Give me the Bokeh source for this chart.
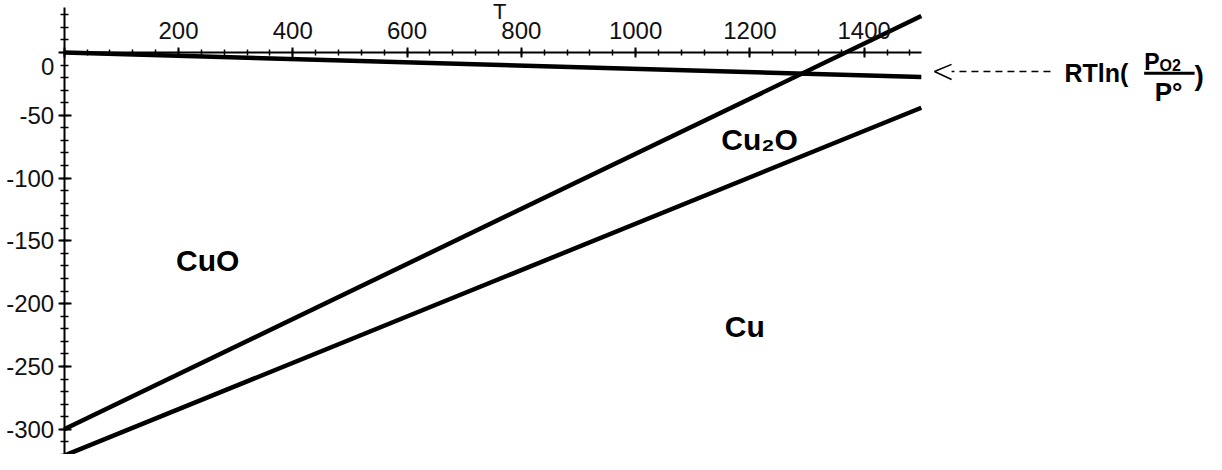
from bokeh.plotting import figure
from bokeh.models import Range1d, SingleIntervalTicker
from bokeh.core.properties import value
from bokeh.embed import file_html
from bokeh.resources import INLINE

# ---- data (T in K, energies in kJ) ----
T_ends = [0, 1500]
cuo_cu2o = [-300, 29]        # CuO / Cu2O boundary
cu2o_cu = [-321, -44]        # Cu2O / Cu boundary
rtln_po2 = [0, -19.5]        # RT ln(P_O2/P°)

x_tick_values = [200, 400, 600, 800, 1000, 1200, 1400]
x_tick_labels = ["200", "400", "600", "800", "1000", "1200", "1400"]
y_tick_values = [-300, -250, -200, -150, -100, -50]
y_tick_labels = ["-300", "-250", "-200", "-150", "-100", "-50"]

region_labels = ["CuO", "Cu\u2082O", "Cu"]
region_x = [251, 1217, 1191]
region_y = [-165.6, -69.3, -217.8]

FONT = value("Liberation Sans")

p = figure(width=1206, height=454, output_backend="svg", toolbar_location=None,
           x_range=Range1d(-111.5, 1999.1), y_range=Range1d(-320.1, 41.4),
           x_axis_location="above", y_axis_location="left")
p.min_border = 0
p.min_border_left = 0
p.min_border_right = 0
p.min_border_top = 0
p.min_border_bottom = 0
p.outline_line_color = None
p.xgrid.visible = False
p.ygrid.visible = False
p.background_fill_color = "white"
p.border_fill_color = "white"

# x axis crossing at y = 0
xa = p.xaxis[0]
xa.fixed_location = 0
xa.bounds = (0, 1500)
xa.ticker = SingleIntervalTicker(interval=200, num_minor_ticks=5)
overrides = {0: ""}
overrides.update({v: s for v, s in zip(x_tick_values, x_tick_labels)})
xa.major_label_overrides = overrides
xa.axis_line_width = 2
xa.axis_line_color = "black"
xa.major_tick_in = 5
xa.major_tick_out = 5
xa.minor_tick_in = 3
xa.minor_tick_out = 3
xa.major_tick_line_width = 2
xa.minor_tick_line_width = 1.5
xa.major_label_standoff = 8
xa.major_label_text_font = "Liberation Sans"
xa.major_label_text_font_size = "24px"
xa.major_label_text_color = "#111111"

# y axis crossing at x = 0
ya = p.yaxis[0]
ya.fixed_location = 0
ya.bounds = (-330, 36)
ya.ticker = SingleIntervalTicker(interval=50, num_minor_ticks=5)
yover = {0: ""}
yover.update({v: s for v, s in zip(y_tick_values, y_tick_labels)})
ya.major_label_overrides = yover
ya.axis_line_width = 2
ya.axis_line_color = "black"
ya.major_tick_in = 7
ya.major_tick_out = 6
ya.minor_tick_in = 4
ya.minor_tick_out = 4
ya.major_tick_line_width = 2
ya.minor_tick_line_width = 1.5
ya.major_label_standoff = 4
ya.major_label_text_font = "Liberation Sans"
ya.major_label_text_font_size = "24px"
ya.major_label_text_color = "#111111"

# lines
for ys in (cuo_cu2o, cu2o_cu, rtln_po2):
    p.line(T_ends, ys, line_color="black", line_width=4.5)

# "0" label of the y axis (offset below the x axis) and axis title T
p.text(x=[-29], y=[-11.1], text=["0"], text_font=FONT, text_font_size="24px",
       text_color="#111111", text_align="center", text_baseline="middle")
p.text(x=[762], y=[32.5], text=["T"], text_font=FONT, text_font_size="22px",
       text_color="#111111", text_align="center", text_baseline="middle")

# region labels
p.text(x=region_x, y=region_y, text=region_labels, text_font=FONT,
       text_font_size="30px", text_font_style="bold", text_color="black",
       text_align="center", text_baseline="middle")

# arrow annotation to the right
p.line([1726, 1553], [-15.1, -15.1], line_color="black", line_width=1.5, line_dash="7 5")
p.line([1553, 1523, 1553], [-9.5, -15.1, -21.5], line_color="black", line_width=1.5)

def label(x, y, s, size):
    p.text(x=[x], y=[y], text=[s], text_font=FONT, text_font_size=size,
           text_font_style="bold", text_color="black", text_align="left",
           text_baseline="middle")

label(1750.6, -16.7, "RTln(", "25px")
label(1890, -7.4, "P", "23px")
label(1917, -10.2, "O2", "16px")
p.line([1890, 1978.3], [-16.5, -16.5], line_color="black", line_width=3)
label(1908.4, -31.8, "P\u00b0", "26px")
label(1978, -18.3, ")", "28px")

open("out.html", "w").write(file_html(p, INLINE))
